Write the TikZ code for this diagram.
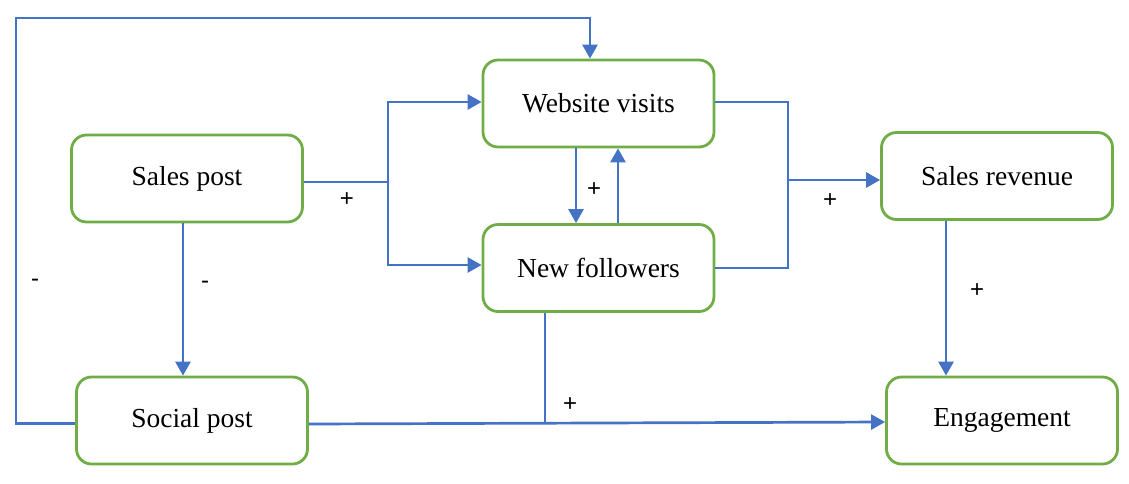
\documentclass[tikz,border=0pt]{standalone}
\usepackage{fontspec}
\setmainfont{Liberation Serif}
\newfontfamily\labfont{Liberation Sans}
\usetikzlibrary{arrows.meta}
\definecolor{eblue}{HTML}{4472C4}
\definecolor{egreen}{HTML}{70AD47}
\begin{document}
\begin{tikzpicture}[x=1pt,y=-1pt,
  box/.style={draw=egreen,line width=2.8pt,rounded corners=15pt,fill=white,
    minimum width=231pt,minimum height=87pt,inner sep=0pt,
    font=\fontsize{27.5}{33}\selectfont},
  conn/.style={draw=eblue,line width=2.7pt},
  arr/.style={conn,-{Triangle[length=14pt,width=15pt]}},
  sgn/.style={font=\labfont\fontsize{24}{28}\selectfont,inner sep=0pt}]
\useasboundingbox (0,0) rectangle (1129,483);
\node[box] (wv) at (598.5,103.5) {Website visits};
\node[box] (spo) at (187,178.5) {Sales post};
\node[box] (nf) at (598.5,268) {New followers};
\node[box] (sr) at (997,176) {Sales revenue};
\node[box] (so) at (192,420.5) {Social post};
\node[box] (eng) at (1002,420.5) {Engagement};
\coordinate (c1) at (16,423.5);
\coordinate (c2) at (16,18);
\coordinate (sj) at (388,182);
\coordinate (rj) at (788,180);
\coordinate (nj) at (545,423);
% social post -> website visits (outer loop)
\draw[arr] ([yshift=-3pt]so.west) -- (c1) -- (c2) -| ([xshift=-8.5pt]wv.north);
% sales post -> website visits / new followers
\draw[conn] ([yshift=-3.5pt]spo.east) -- (sj);
\draw[arr] (sj) |- ([yshift=1.5pt]wv.west);
\draw[arr] (sj) |- ([yshift=3pt]nf.west);
% sales post -> social post
\draw[arr] ([xshift=-4pt]spo.south) -- ([xshift=-9pt]so.north);
% website visits <-> new followers
\draw[arr] ([xshift=-22.5pt]wv.south) -- ([xshift=-22.5pt]nf.north);
\draw[arr] ([xshift=19.5pt]nf.north) -- ([xshift=19.5pt]wv.south);
% website visits + new followers -> sales revenue
\draw[conn] ([yshift=1.5pt]wv.east) -| (rj) |- (nf.east);
\draw[arr] (rj) -- ([yshift=-4pt]sr.west);
% sales revenue -> engagement
\draw[arr] ([xshift=-51pt]sr.south) -- ([xshift=-56pt]eng.north);
% social post -> engagement, new followers joins
\draw[arr] ([yshift=-3.5pt]so.east) -- ([yshift=-1.5pt]eng.west);
\draw[conn] ([xshift=-53.5pt]nf.south) -- (nj);
% signs
\node[sgn] at (347,200) {+};
\node[sgn] at (205,285) {-};
\node[sgn] at (35,283) {-};
\node[sgn] at (594,190) {+};
\node[sgn] at (830,201) {+};
\node[sgn] at (977,291) {+};
\node[sgn] at (570,405) {+};
\end{tikzpicture}
\end{document}
